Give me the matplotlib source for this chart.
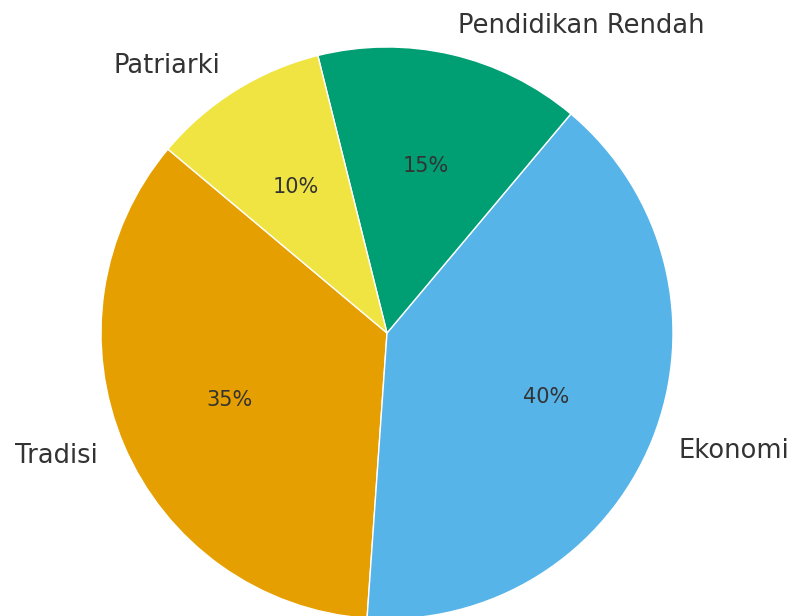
import matplotlib
matplotlib.use("Agg")
import matplotlib.pyplot as plt

labels = ["Tradisi", "Ekonomi", "Pendidikan Rendah", "Patriarki"]
values = [35, 40, 15, 10]
colors = ["#E69F00", "#56B4E9", "#009E73", "#F0E442"]

fig = plt.figure(figsize=(7.92, 6.16), dpi=100)
W, H = 792, 616
cx, cy, r = 387, 333, 286
ax = fig.add_axes([(cx - r) / W, (H - cy - r) / H, 2 * r / W, 2 * r / H])
wedges, texts, autotexts = ax.pie(
    values, labels=labels, colors=colors, autopct="%1.0f%%", startangle=140,
    wedgeprops=dict(edgecolor="white", linewidth=1),
    textprops=dict(color="#333333", fontsize=18.5),
)
for t in autotexts:
    t.set_fontsize(15)
ax.set_xlim(-1, 1)
ax.set_ylim(-1, 1)
ax.set_aspect("equal")
ax.axis("off")
fig.savefig("out.png", dpi=100)
